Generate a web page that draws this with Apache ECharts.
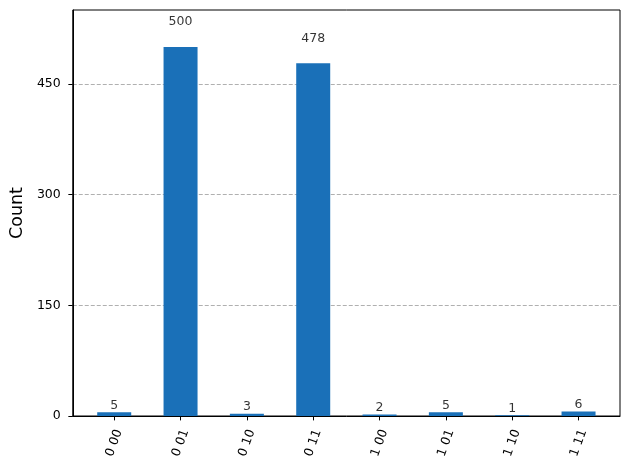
<!DOCTYPE html>
<html>
<head>
<meta charset="utf-8">
<script src="https://cdn.jsdelivr.net/npm/echarts@6/dist/echarts.min.js"></script>
<style>html,body{margin:0;padding:0;background:#fff}#c{width:630px;height:470px}</style>
</head>
<body>
<div id="c"></div>
<script>
const categories = ['0 00', '0 01', '0 10', '0 11', '1 00', '1 01', '1 10', '1 11'];
const counts = [5, 500, 3, 478, 2, 5, 1, 6];
const yTicks = [0, 150, 300, 450];
const yMax = 550;

const font = 'DejaVu Sans';
const positions = categories.map((_, i) => i);
const barData = counts.map((v, i) => [i, v]);
const labelData = counts.map((v, i) => [i, v * 1.05, v]);

const chart = echarts.init(document.getElementById('c'), null, {renderer: 'canvas'});
chart.setOption({
  animation: false,
  backgroundColor: '#fff',
  grid: {left: 71, right: 10, top: 10, bottom: 54, show: true, borderColor: '#000', borderWidth: 1, backgroundColor: 'transparent'},
  xAxis: {
    type: 'value', min: -0.625, max: 7.625,
    axisLine: {show: true, onZero: false, lineStyle: {color: '#000', width: 1}},
    axisTick: {show: true, length: 4.4, customValues: positions, lineStyle: {color: '#000'}},
    axisLabel: {
      customValues: positions, rotate: 70, margin: 27, color: '#000',
      align: 'center', verticalAlign: 'middle',
      fontFamily: font, fontSize: 12.5,
      formatter: v => categories[Math.round(v)]
    },
    splitLine: {show: false}
  },
  yAxis: {
    type: 'value', min: 0, max: yMax,
    name: 'Count', nameLocation: 'middle', nameGap: 45,
    nameTextStyle: {fontFamily: font, fontSize: 17.5, color: '#000'},
    axisLine: {show: true, onZero: false, lineStyle: {color: '#000', width: 1}},
    axisTick: {show: true, length: 4.4, customValues: yTicks, lineStyle: {color: '#000'}},
    axisLabel: {customValues: yTicks, margin: 12, color: '#000', fontFamily: font, fontSize: 12.5},
    splitLine: {show: true, lineStyle: {color: '#b0b0b0', type: [4, 2], width: 1}}
  },
  series: [
    {
      type: 'bar', data: barData, barWidth: 34,
      itemStyle: {color: '#1a70b8'},
      label: {show: false}
    },
    {
      type: 'scatter', data: labelData, symbolSize: 0, silent: true,
      label: {
        show: true, position: 'top', distance: 0, color: '#000',
        fontFamily: font, fontSize: 12.5,
        formatter: p => String(p.data[2])
      }
    }
  ]
});
</script>
</body>
</html>
